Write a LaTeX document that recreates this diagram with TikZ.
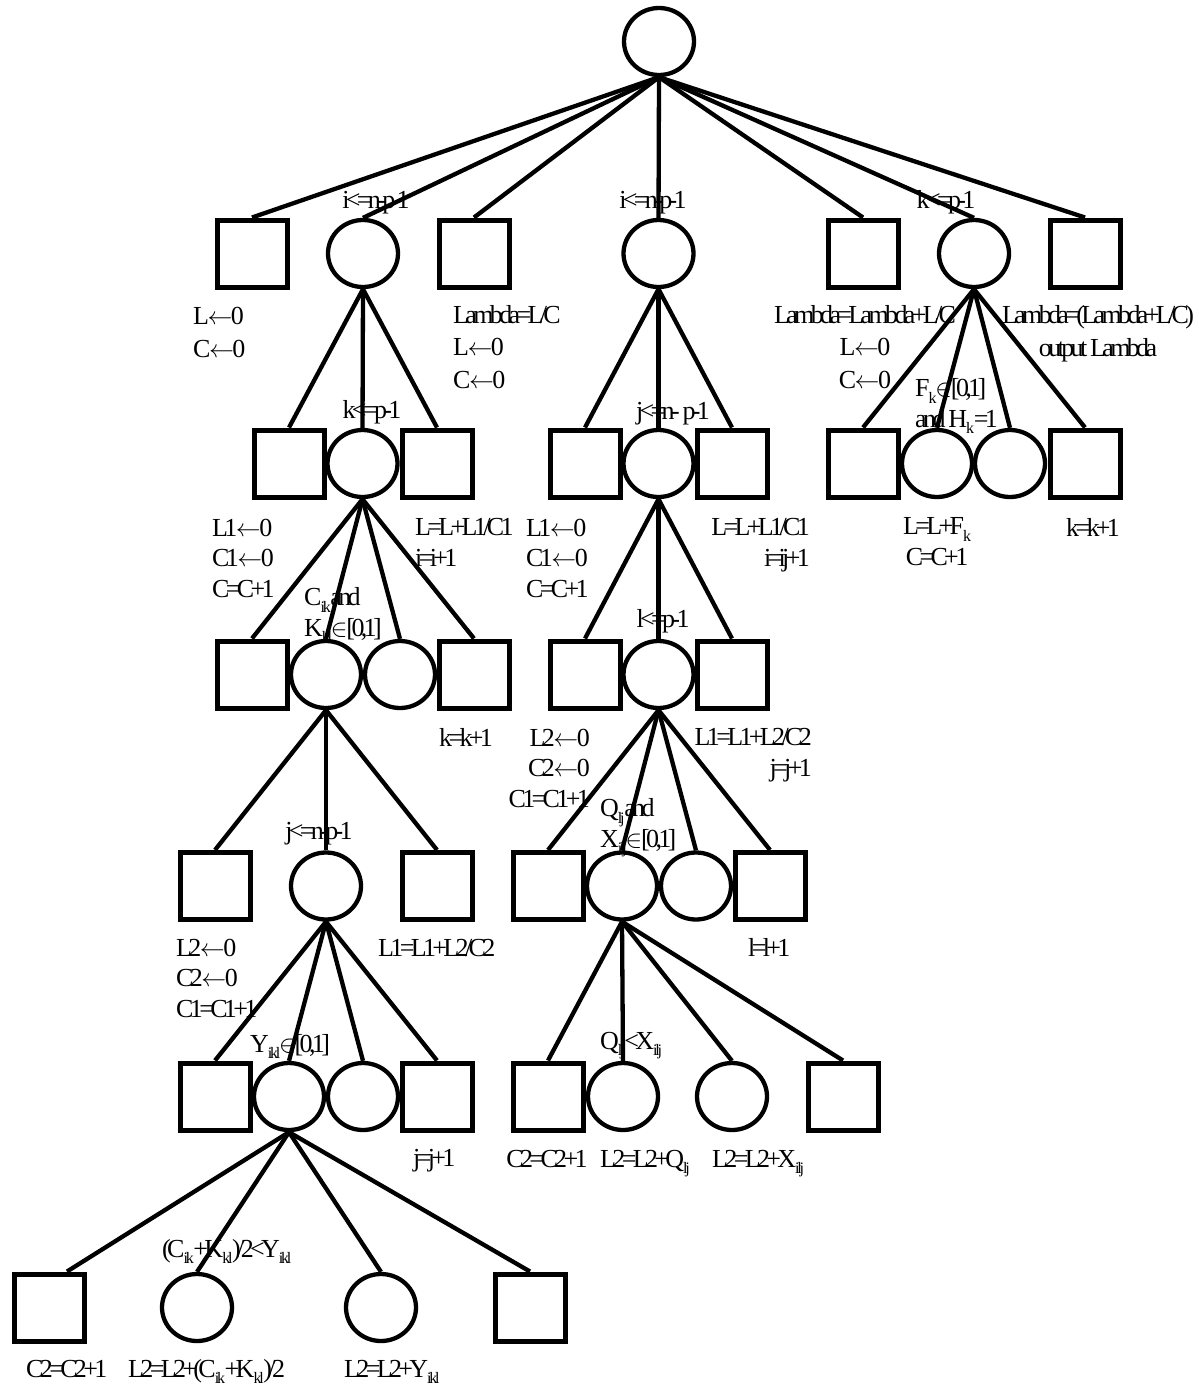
\documentclass[tikz,border=0pt]{standalone}
\usepackage{fontspec}
\setmainfont{Liberation Serif}[LetterSpace=-14]
\usetikzlibrary{shapes.geometric}
\newcommand\sbs[1]{\kern-1pt\raisebox{-0.25em}{\fontsize{16}{16}\selectfont #1}\kern-0.3pt}
\newcommand\elm{\kern-1pt$\in$\kern-1pt}
\newcommand\larr{\kern-1.5pt$\leftarrow$\kern-1.5pt}
\begin{document}
\begin{tikzpicture}[x=1pt,y=-1pt,
  sq/.style={draw,line width=5pt,minimum width=70pt,minimum height=67pt,inner sep=0pt},
  cir/.style={draw,ellipse,line width=4.3pt,minimum width=70pt,minimum height=67pt,inner sep=0pt},
  conn/.style={line width=4.3pt},
  lbl/.style={inner sep=0pt,font=\fontsize{26}{30.5}\selectfont},
  wide/.style={font=\fontsize{26}{32.5}\selectfont},
  lblL/.style={lbl,align=left,anchor=base west},
  lblR/.style={lbl,align=right,anchor=base east},
  lblC/.style={lbl,align=center,anchor=base}]
\useasboundingbox[fill=white] (0,0) rectangle (1199,1387);
% root
\node[cir] (root) at (659,41.5) {};
% level 1
\node[sq]  (l1a) at (252,253.5) {};
\node[cir] (l1b) at (363,253.5) {};
\node[sq]  (l1c) at (474,253.5) {};
\node[cir] (l1d) at (658.5,253.5) {};
\node[sq]  (l1e) at (863,253.5) {};
\node[cir] (l1f) at (974,253.5) {};
\node[sq]  (l1g) at (1085,253.5) {};
% level 2
\node[sq]  (lb2a) at (289,463.5) {};
\node[cir] (lb2b) at (362.5,463.5) {};
\node[sq]  (lb2c) at (437,463.5) {};
\node[sq]  (md2a) at (585,463.5) {};
\node[cir] (md2b) at (658.5,463.5) {};
\node[sq]  (md2c) at (732,463.5) {};
\node[sq]  (rt2a) at (863,463.5) {};
\node[cir] (rt2b) at (937,463.5) {};
\node[cir] (rt2c) at (1010,463.5) {};
\node[sq]  (rt2d) at (1085,463.5) {};
% level 3
\node[sq]  (lb3a) at (252,674.5) {};
\node[cir] (lb3b) at (326,674.5) {};
\node[cir] (lb3c) at (400,674.5) {};
\node[sq]  (lb3d) at (474,674.5) {};
\node[sq]  (md3a) at (585,674.5) {};
\node[cir] (md3b) at (658.5,674.5) {};
\node[sq]  (md3c) at (732,674.5) {};
% level 4
\node[sq]  (lb4a) at (215,886) {};
\node[cir] (lb4b) at (326,886) {};
\node[sq]  (lb4c) at (437,886) {};
\node[sq]  (md4a) at (548,886) {};
\node[cir] (md4b) at (622,886) {};
\node[cir] (md4c) at (696,886) {};
\node[sq]  (md4d) at (770,886) {};
% level 5
\node[sq]  (lb5a) at (215,1096.5) {};
\node[cir] (lb5b) at (289,1096.5) {};
\node[cir] (lb5c) at (363,1096.5) {};
\node[sq]  (lb5d) at (437,1096.5) {};
\node[sq]  (md5a) at (548,1096.5) {};
\node[cir] (md5b) at (623,1096.5) {};
\node[cir] (md5c) at (732,1096.5) {};
\node[sq]  (md5d) at (843,1096.5) {};
% level 6
\node[sq]  (lb6a) at (49,1307.5) {};
\node[cir] (lb6b) at (197,1307.5) {};
\node[cir] (lb6c) at (381,1307.5) {};
\node[sq]  (lb6d) at (530,1307.5) {};
% connectors
\foreach \c in {l1a,l1b,l1c,l1d,l1e,l1f,l1g} \draw[conn] (root.south) -- (\c.north);
\foreach \c in {lb2a,lb2b,lb2c} \draw[conn] (l1b.south) -- (\c.north);
\foreach \c in {lb3a,lb3b,lb3c,lb3d} \draw[conn] (lb2b.south) -- (\c.north);
\foreach \c in {lb4a,lb4b,lb4c} \draw[conn] (lb3b.south) -- (\c.north);
\foreach \c in {lb5a,lb5b,lb5c,lb5d} \draw[conn] (lb4b.south) -- (\c.north);
\draw[conn] (lb5b.south) -- ([xshift=18pt]lb6a.north);
\foreach \c in {lb6b,lb6c,lb6d} \draw[conn] (lb5b.south) -- (\c.north);
\foreach \c in {md2a,md2b,md2c} \draw[conn] (l1d.south) -- (\c.north);
\foreach \c in {md3a,md3b,md3c} \draw[conn] (md2b.south) -- (\c.north);
\foreach \c in {md4a,md4b,md4c,md4d} \draw[conn] (md3b.south) -- (\c.north);
\foreach \c in {md5a,md5b,md5c,md5d} \draw[conn] (md4b.south) -- (\c.north);
\foreach \c in {rt2a,rt2b,rt2c,rt2d} \draw[conn] (l1f.south) -- (\c.north);
% level 1 labels (y = baseline of last line)
\node[lblC] (t1) at (376,208) {i<=n-p-1};
\node[lblL,wide] (t2) at (193,357) {L\larr 0\\C\larr 0};
\node[lblL,wide] (t3) at (453,388) {Lambda=L/C\\L\larr 0\\C\larr 0};
\node[lblC] (t4) at (653,208) {i<=n-p-1};
\node[lblC] (t5) at (946,208) {k<=p-1};
\node[lblC,wide] (t6) at (865,388) {Lambda=Lambda+L/C\\L\larr 0\\C\larr 0};
\node[lblC,wide] (t7) at (1098,356) {Lambda=(Lambda+L/C)\\output Lambda};
% level 2 labels
\node[lblC] (t8) at (372,418) {k<=p-1};
\node[lblL] (t9) at (212,597) {L1\larr 0\\C1\larr 0\\C=C+1};
\node[lblL] (t10) at (415,566) {L=L+L1/C1\\i=i+1};
\node[lblC] (t11) at (673,419) {j<=n- p-1};
\node[lblL] (t12) at (526,597) {L1\larr 0\\C1\larr 0\\C=C+1};
\node[lblR] (t13) at (810,566) {L=L+L1/C1\\i=ij+1};
\node[lblL] (t14) at (915,427) {F\sbs{k}\elm[0,1]\\and H\sbs{k} =1};
\node[lblC] (t15) at (937,565) {L=L+F\sbs{k}\\C=C+1};
\node[lblC] (t16) at (1093,536) {k=k+1};
% level 3 labels
\node[lblL] (t17) at (304,636) {C\sbs{ik} and\\K\sbs{kl}\elm[0,1]};
\node[lblL] (t18) at (439,746) {k=k+1};
\node[lblC] (t19) at (663,627) {l<=p-1};
\node[lblR] (t20) at (590,807) {L2\larr 0\\C2\larr 0\\C1=C1+1};
\node[lblR] (t21) at (812,776) {L1=L1+L2/C2\\j=j+1};
% level 4 labels
\node[lblC] (t22) at (319,839) {j<=n-p-1};
\node[lblL] (t23) at (176,1017) {L2\larr 0\\C2\larr 0\\C1=C1+1};
\node[lblL] (t24) at (378,956) {L1=L1+L2/C2};
\node[lblL] (t25) at (600,847) {Q\sbs{lj} and\\X\sbs{ilj}\elm[0,1]};
\node[lblL] (t26) at (748,956) {l=l+1};
% level 5 labels
\node[lblL] (t27) at (250,1052) {Y\sbs{ikl}\elm[0,1]};
\node[lblL] (t28) at (413,1166) {j=j+1};
\node[lblL] (t29) at (600,1049) {Q\sbs{lj}<X\sbs{ilj}};
\node[lblC] (t30) at (547,1167) {C2=C2+1};
\node[lblL] (t31) at (600,1167) {L2=L2+Q\sbs{lj}};
\node[lblL] (t32) at (712,1167) {L2=L2+X\sbs{ilj}};
% level 6 labels
\node[lblL] (t33) at (162,1257) {(C\sbs{ik}+K\sbs{kl})/2<Y\sbs{ikl}};
\node[lblL] (t34) at (26,1377) {C2=C2+1};
\node[lblL] (t35) at (128,1377) {L2=L2+(C\sbs{ik}+K\sbs{kl})/2};
\node[lblL] (t36) at (344,1377) {L2=L2+Y\sbs{ikl}};
\end{tikzpicture}
\end{document}
